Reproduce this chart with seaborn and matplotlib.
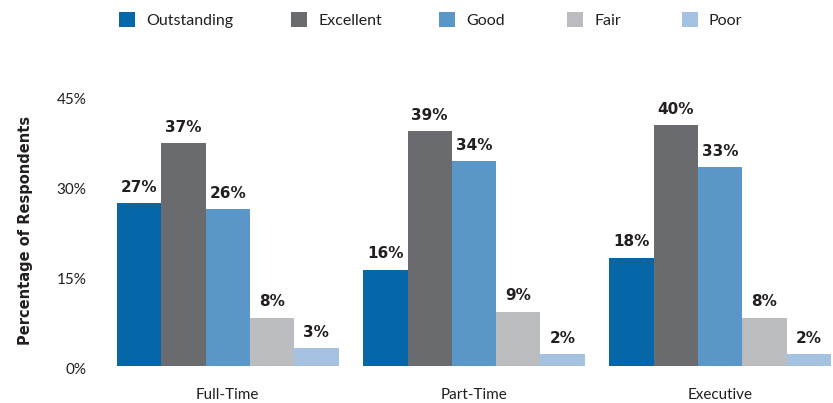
import matplotlib
matplotlib.use("Agg")
import matplotlib.pyplot as plt
import matplotlib.transforms as mtransforms
import seaborn as sns
import pandas as pd

# Survey ratings by employment type
groups = ["Full-Time", "Part-Time", "Executive"]
ratings = ["Outstanding", "Excellent", "Good", "Fair", "Poor"]
full_time = [27, 37, 26, 8, 3]
part_time = [16, 39, 34, 9, 2]
executive = [18, 40, 33, 8, 2]
y_ticks = [0, 15, 30, 45]

colors = ["#0566A8", "#6A6B6F", "#5B96C9", "#BBBCC0", "#A6C2E1"]

rows = []
for g, vals in zip(groups, [full_time, part_time, executive]):
    for r, v in zip(ratings, vals):
        rows.append({"Group": g, "Rating": r, "Value": v})
df = pd.DataFrame(rows)

sns.set_theme(style="white")
plt.rcParams["font.family"] = ["Lato", "DejaVu Sans"]
text_color = "#231F20"
bold_font = ["DejaVu Sans"]

fig = plt.figure(figsize=(8.33, 4.03), dpi=100)
ax = fig.add_axes([117 / 833, 1 - 366 / 403, 714 / 833, 271 / 403])

sns.barplot(data=df, x="Group", y="Value", hue="Rating", order=groups,
            hue_order=ratings, palette=colors, width=0.9, gap=0,
            saturation=1, errorbar=None, linewidth=0, ax=ax, legend=True)

ax.set_xlim(-0.45, 2.45)
ax.set_ylim(0, 45)
ax.set_yticks(y_ticks)
ax.set_yticklabels([f"{t}%" for t in y_ticks])
ax.tick_params(axis="y", length=0, pad=22, labelsize=11, labelcolor=text_color)
ax.tick_params(axis="x", length=0, pad=16, labelsize=11, labelcolor=text_color)
shift = mtransforms.ScaledTranslation(0, -3 / 100, fig.dpi_scale_trans)
for lbl in ax.get_yticklabels():
    lbl.set_transform(lbl.get_transform() + shift)
for s in ax.spines.values():
    s.set_visible(False)
ax.set_xlabel("")
ax.set_ylabel("Percentage of Respondents", fontsize=10.5, fontweight="bold",
              family=bold_font, color=text_color, labelpad=17)

for cont in ax.containers:
    ax.bar_label(cont, labels=[f"{int(round(b.get_height()))}%" for b in cont],
                 padding=6, fontsize=11, fontweight="bold", family=bold_font,
                 color=text_color)

# Legend row across the top, one entry per rating
handles, labels = ax.get_legend_handles_labels()
ax.get_legend().remove()
fs = 11.5
px = fs * 100 / 72
entry_x = [119, 291, 439, 567, 682]
for h, l, x in zip(handles, labels, entry_x):
    fig.legend([h], [l], loc="center left",
               bbox_to_anchor=(x / 833, 1 - 20 / 403), frameon=False,
               fontsize=fs, borderpad=0, borderaxespad=0,
               handlelength=16 / px, handleheight=16 / px,
               handletextpad=11 / px, labelcolor=text_color)

fig.savefig("out.png", dpi=100)
